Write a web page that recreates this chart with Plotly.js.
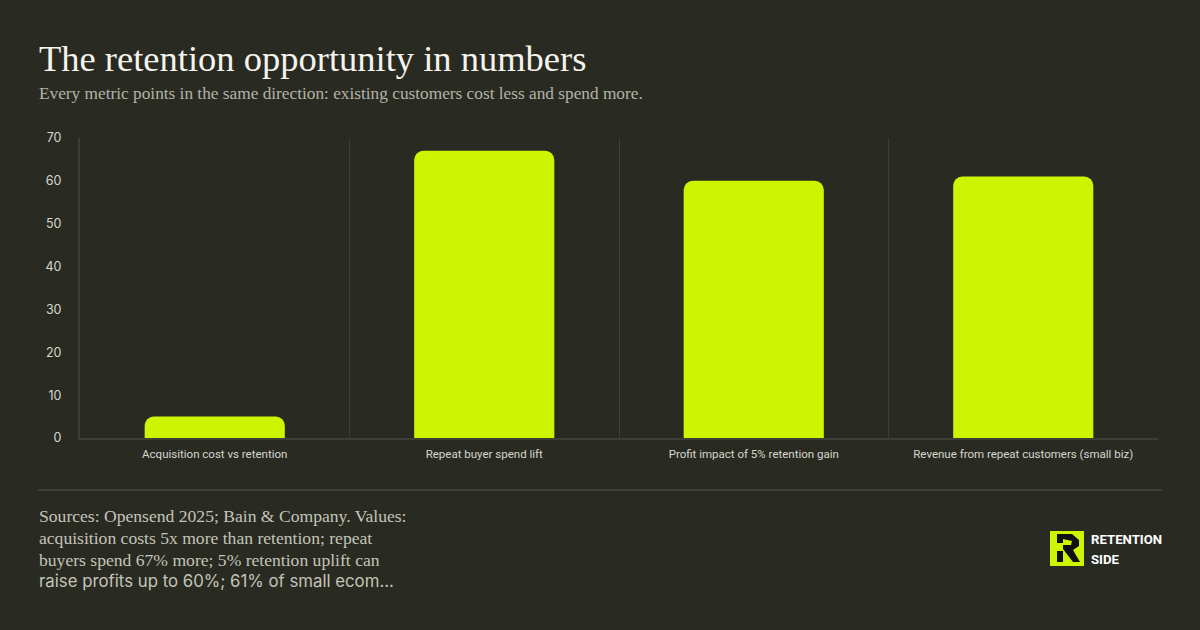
<!DOCTYPE html>
<html>
<head>
<meta charset="utf-8">
<script src="https://cdn.plot.ly/plotly-3.0.1.min.js"></script>
<style>
html,body{margin:0;padding:0;background:#292b22;}
#chart{width:1200px;height:630px;}
</style>
</head>
<body>
<div id="chart"></div>
<script>
// ---- data ----
const categories = [
  "Acquisition cost vs retention",
  "Repeat buyer spend lift",
  "Profit impact of 5% retention gain",
  "Revenue from repeat customers (small biz)"
];
const values = [5, 67, 60, 61];
const yTickValues = [0, 10, 20, 30, 40, 50, 60, 70];

const titleText = "The retention opportunity in numbers";
const subtitleText = "Every metric points in the same direction: existing customers cost less and spend more.";
const sourceLinesSerif = [
  "Sources: Opensend 2025; Bain & Company. Values:",
  "acquisition costs 5x more than retention; repeat",
  "buyers spend 67% more; 5% retention uplift can"
];
const sourceLineSans = "raise profits up to 60%; 61% of small ecom...";
const brandLines = ["RETENTION", "SIDE"];

// ---- layout helpers (pixel -> paper) ----
const W = 1200, H = 630;
const M = {l: 80, r: 42, t: 138, b: 192};
const PW = W - M.l - M.r, PH = H - M.t - M.b;
const px = x => (x - M.l) / PW;
const py = y => (H - M.b - y) / PH;

const BG = "#292b22";
const GRID = "#3d3f36";
const LIME = "#cdf400";

const annotations = [];
annotations.push({
  xref: "paper", yref: "paper", x: px(37), y: py(59), xanchor: "left", yanchor: "middle",
  text: titleText, showarrow: false,
  font: {family: "Liberation Serif, DejaVu Serif, serif", size: 36.5, color: "#f5f3ec"}
});
annotations.push({
  xref: "paper", yref: "paper", x: px(37), y: py(94), xanchor: "left", yanchor: "middle",
  text: subtitleText, showarrow: false,
  font: {family: "Liberation Serif, DejaVu Serif, serif", size: 17.3, color: "#b3b3a8"}
});
sourceLinesSerif.forEach((t, i) => {
  annotations.push({
    xref: "paper", yref: "paper", x: px(37), y: py(516 + 22 * i), xanchor: "left", yanchor: "middle",
    text: t, showarrow: false,
    font: {family: "Liberation Serif, DejaVu Serif, serif", size: 17.6, color: "#c4c4b9"}
  });
});
annotations.push({
  xref: "paper", yref: "paper", x: px(37), y: py(581), xanchor: "left", yanchor: "middle",
  text: sourceLineSans, showarrow: false,
  font: {family: "Inter, Roboto, sans-serif", size: 16.8, color: "#c4c4b9"}
});
brandLines.forEach((t, i) => {
  annotations.push({
    xref: "paper", yref: "paper", x: px(1089), y: py(539 + 20 * i), xanchor: "left", yanchor: "middle",
    text: "<b>" + t + "</b>", showarrow: false,
    font: {family: "Roboto, DejaVu Sans, sans-serif", size: 13.2, color: "#ffffff"}
  });
});

const shapes = [
  // separator line
  {type: "line", xref: "paper", yref: "paper", x0: px(38), x1: px(1162), y0: py(490), y1: py(490),
   line: {color: GRID, width: 2}},
  // logo square
  {type: "rect", xref: "paper", yref: "paper", x0: px(1050), x1: px(1084), y0: py(531), y1: py(566),
   fillcolor: LIME, line: {width: 0}},
  // logo R glyph (approximation)
  {type: "path", xref: "paper", yref: "paper",
   path: "M " + px(1057) + " " + py(534) + " L " + px(1072) + " " + py(534) +
         " L " + px(1079) + " " + py(540) + " L " + px(1079) + " " + py(546) +
         " L " + px(1073) + " " + py(550) + " L " + px(1080) + " " + py(562) +
         " L " + px(1073) + " " + py(562) + " L " + px(1063) + " " + py(549) +
         " L " + px(1063) + " " + py(545) + " L " + px(1071) + " " + py(545) +
         " L " + px(1072) + " " + py(541) + " L " + px(1063) + " " + py(539) +
         " L " + px(1063) + " " + py(543) + " L " + px(1057) + " " + py(543) + " Z",
   fillcolor: "#111111", line: {width: 0}},
  {type: "rect", xref: "paper", yref: "paper", x0: px(1057), x1: px(1063), y0: py(551), y1: py(562),
   fillcolor: "#111111", line: {width: 0}}
];

const trace = {
  type: "bar",
  x: categories,
  y: values,
  marker: {color: LIME, line: {width: 0}},
  hoverinfo: "skip"
};

const layout = {
  width: W, height: H,
  margin: M,
  paper_bgcolor: BG,
  plot_bgcolor: BG,
  showlegend: false,
  bargap: 0.48,
  barcornerradius: 9,
  xaxis: {
    type: "category",
    showgrid: true,
    gridcolor: GRID,
    gridwidth: 1,
    tickson: "boundaries",
    ticks: "",
    showline: true,
    linecolor: GRID,
    linewidth: 2,
    mirror: false,
    zeroline: false,
    tickfont: {family: "Roboto, sans-serif", size: 11.5, color: "#d6d6ce"},
    ticklabelstandoff: 4
  },
  yaxis: {
    range: [0, 70],
    tickvals: yTickValues,
    showgrid: false,
    zeroline: false,
    showline: true,
    linecolor: GRID,
    linewidth: 2,
    ticks: "",
    ticklabelstandoff: 14,
    tickfont: {family: "Inter, Roboto, sans-serif", size: 12.5, color: "#d6d6ce"}
  },
  annotations: annotations,
  shapes: shapes
};

Plotly.newPlot("chart", [trace], layout, {displayModeBar: false, staticPlot: true});
</script>
</body>
</html>
